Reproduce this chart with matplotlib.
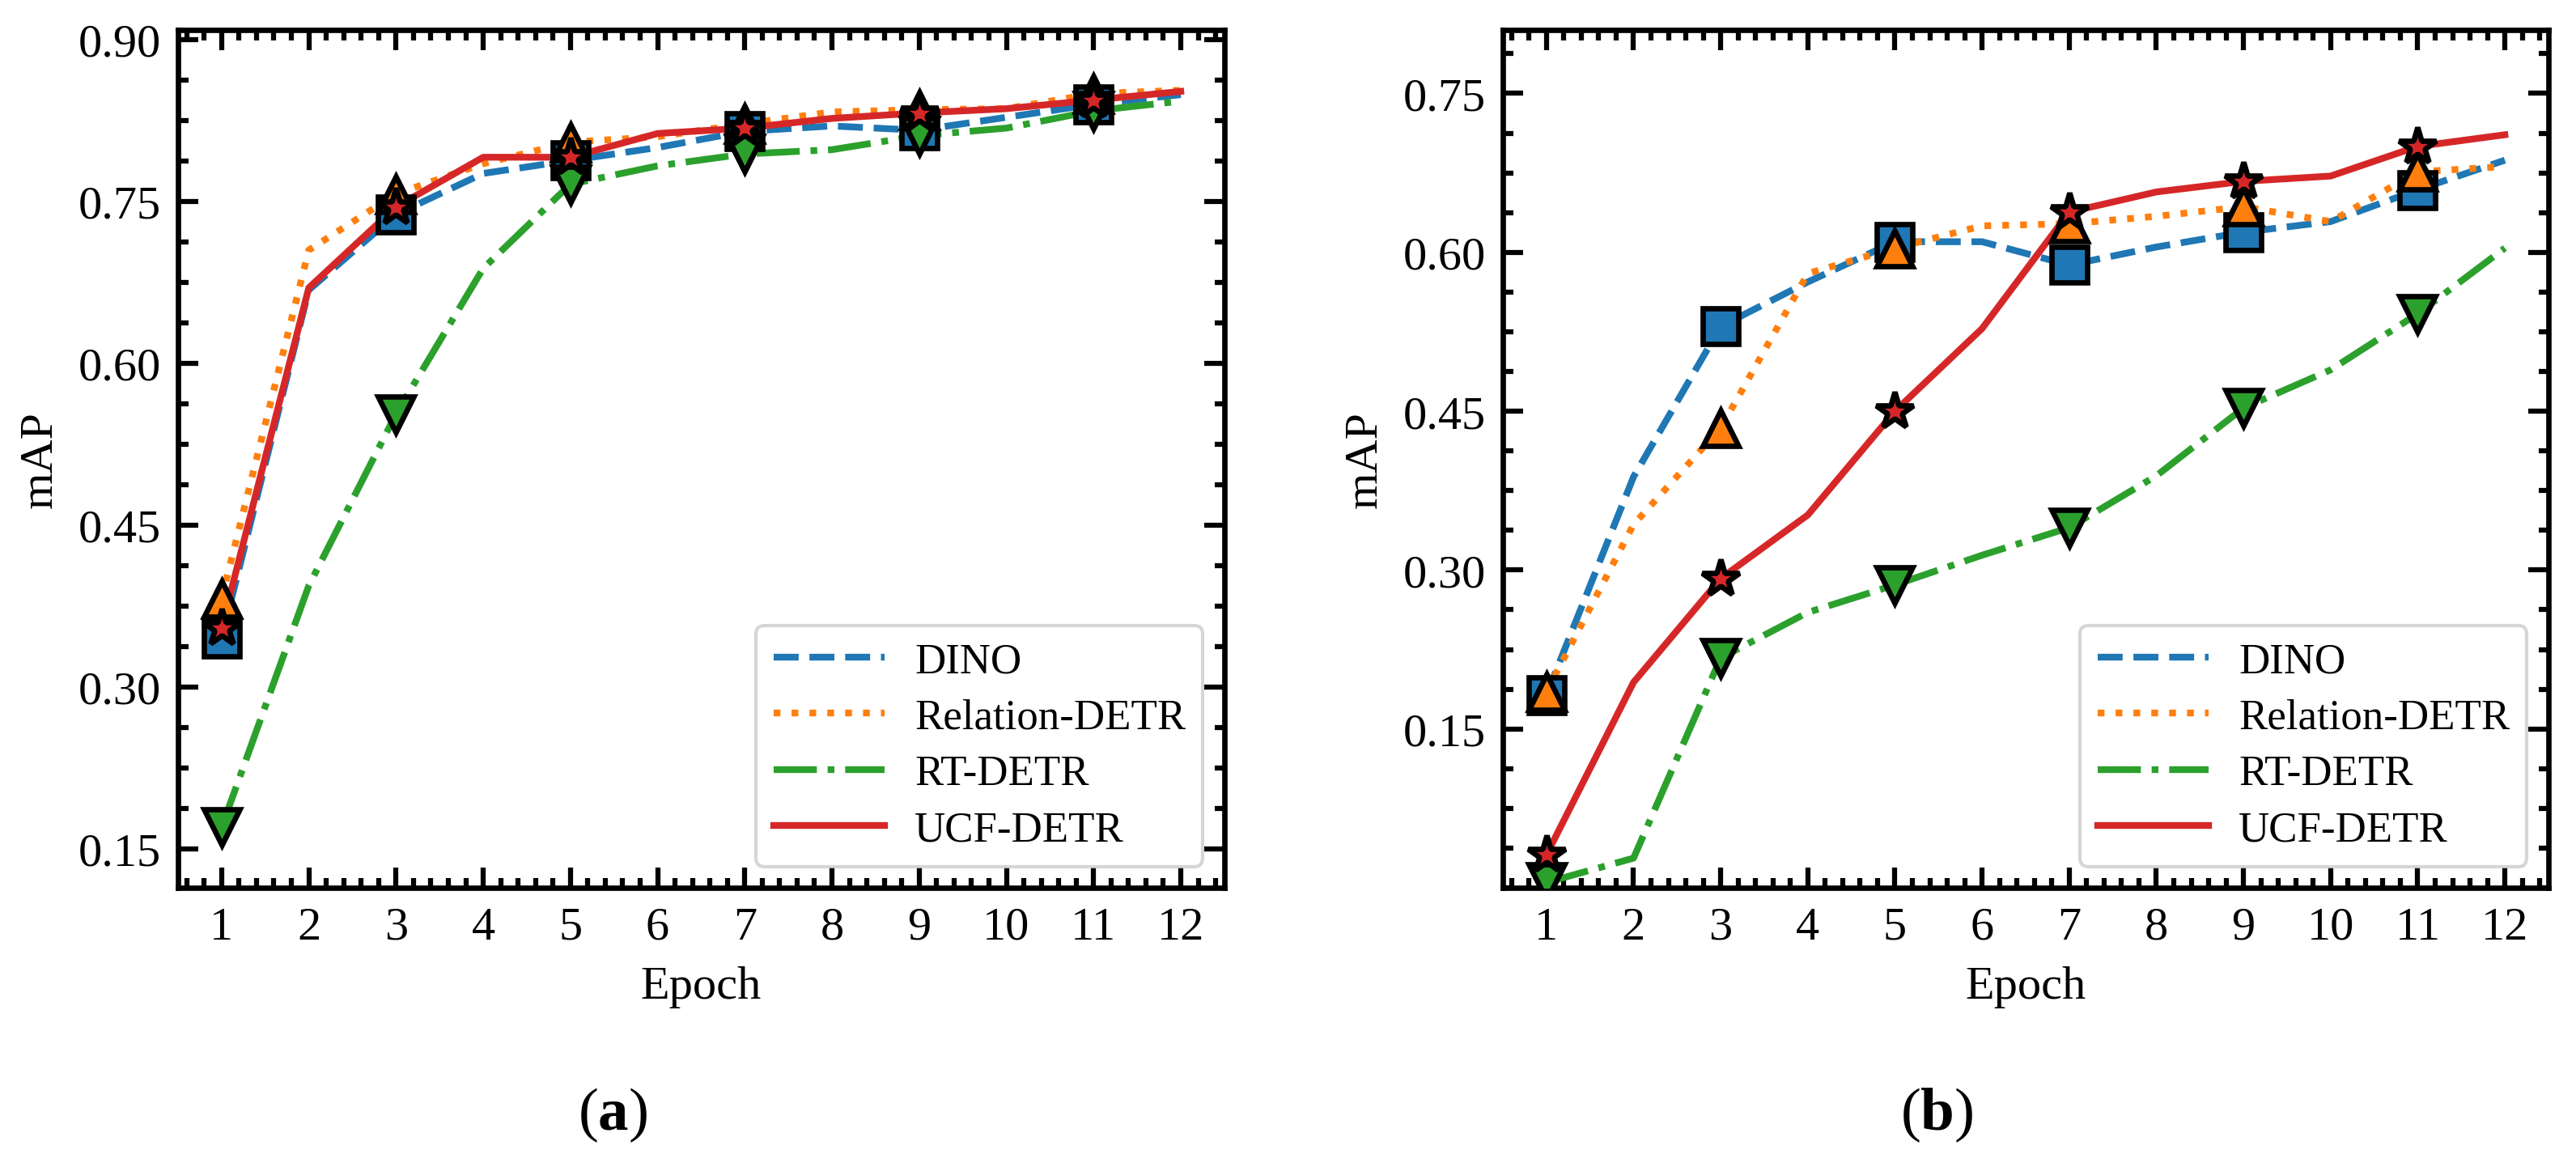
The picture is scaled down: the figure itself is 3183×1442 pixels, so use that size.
import numpy as np
import matplotlib
matplotlib.use('Agg')
import matplotlib.pyplot as plt
from matplotlib.lines import Line2D
from matplotlib.ticker import AutoMinorLocator, FormatStrFormatter

plt.rcParams['font.family'] = ['Liberation Serif', 'DejaVu Serif']
plt.rcParams['mathtext.fontset'] = 'custom'
plt.rcParams['mathtext.rm'] = 'Liberation Serif'
plt.rcParams['mathtext.bf'] = 'Liberation Serif:bold'

epochs = np.arange(1, 13)
names = ['DINO', 'Relation-DETR', 'RT-DETR', 'UCF-DETR']

# (a)
dino_a = [0.345, 0.668, 0.738, 0.776, 0.788, 0.800, 0.815, 0.820, 0.816, 0.828, 0.840, 0.849]
relation_a = [0.382, 0.705, 0.757, 0.785, 0.805, 0.810, 0.822, 0.833, 0.835, 0.836, 0.850, 0.853]
rt_a = [0.170, 0.394, 0.553, 0.688, 0.766, 0.783, 0.794, 0.798, 0.811, 0.818, 0.834, 0.843]
ucf_a = [0.355, 0.670, 0.745, 0.791, 0.791, 0.813, 0.818, 0.827, 0.832, 0.836, 0.844, 0.852]

# (b)
dino_b = [0.182, 0.388, 0.530, 0.572, 0.610, 0.610, 0.588, 0.605, 0.619, 0.629, 0.659, 0.687]
relation_b = [0.185, 0.343, 0.434, 0.580, 0.604, 0.625, 0.627, 0.634, 0.643, 0.629, 0.676, 0.681]
rt_b = [0.005, 0.028, 0.217, 0.260, 0.286, 0.314, 0.340, 0.389, 0.453, 0.489, 0.542, 0.604]
ucf_b = [0.031, 0.194, 0.292, 0.352, 0.450, 0.528, 0.638, 0.657, 0.667, 0.672, 0.700, 0.711]

yticks_a = [0.15, 0.30, 0.45, 0.60, 0.75, 0.90]
yticks_b = [0.15, 0.30, 0.45, 0.60, 0.75]

colors = ['#1f77b4', '#ff7f0e', '#2ca02c', '#d62728']
styles = ['--', ':', '-.', '-']
markers = ['s', '^', 'v', '*']
msizes = [10.5, 10.5, 10.5, 11.5]


def draw_panel(ax, series, ylim, yticks):
    for s, c, ls in zip(series, colors, styles):
        ax.plot(epochs, s, color=c, linestyle=ls, linewidth=2.0, zorder=2)
    # markers on odd epochs, above all lines
    for s, c, m, ms in zip(series, colors, markers, msizes):
        ax.plot(epochs[::2], np.array(s)[::2], linestyle='none', marker=m,
                markersize=ms, markerfacecolor=c, markeredgecolor='black',
                markeredgewidth=1.6, zorder=3)

    ax.set_xlim(0.5, 12.5)
    ax.set_ylim(*ylim)
    ax.set_xticks(epochs)
    ax.set_yticks(yticks)
    ax.yaxis.set_major_formatter(FormatStrFormatter('%.2f'))
    ax.xaxis.set_minor_locator(AutoMinorLocator(5))
    ax.yaxis.set_minor_locator(AutoMinorLocator(4))
    ax.tick_params(which='both', direction='in', top=True, right=True,
                   width=1.5, labelsize=14)
    ax.tick_params(which='major', length=6)
    ax.tick_params(which='minor', length=3)
    ax.tick_params(axis='x', pad=5.5)
    ax.tick_params(axis='y', pad=5)
    for sp in ax.spines.values():
        sp.set_linewidth(1.6)

    ax.set_xlabel('Epoch', fontsize=14, labelpad=5)
    ax.set_ylabel('mAP', fontsize=14, labelpad=5)

    handles = [Line2D([0], [0], color=c, linestyle=ls, linewidth=2.0)
               for c, ls in zip(colors, styles)]
    ax.legend(handles, names, loc='lower right', fontsize=12.7,
              handlelength=2.6, handletextpad=0.7, labelspacing=0.4,
              borderpad=0.4)


fig = plt.figure(figsize=(3183 / 300, 1443 / 300), dpi=300)
ax_a = fig.add_axes([0.0691, 0.2391, 0.4062, 0.7346])
ax_b = fig.add_axes([0.5834, 0.2391, 0.4059, 0.7346])

draw_panel(ax_a, [dino_a, relation_a, rt_a, ucf_a], (0.114, 0.909), yticks_a)
draw_panel(ax_b, [dino_b, relation_b, rt_b, ucf_b], (0.0, 0.81), yticks_b)

fig.text(0.2378, 0.045, r'($\mathbf{a}$)', fontsize=18, ha='center', va='center')
fig.text(0.752, 0.045, r'($\mathbf{b}$)', fontsize=18, ha='center', va='center')

fig.savefig('out.png', dpi=300)
